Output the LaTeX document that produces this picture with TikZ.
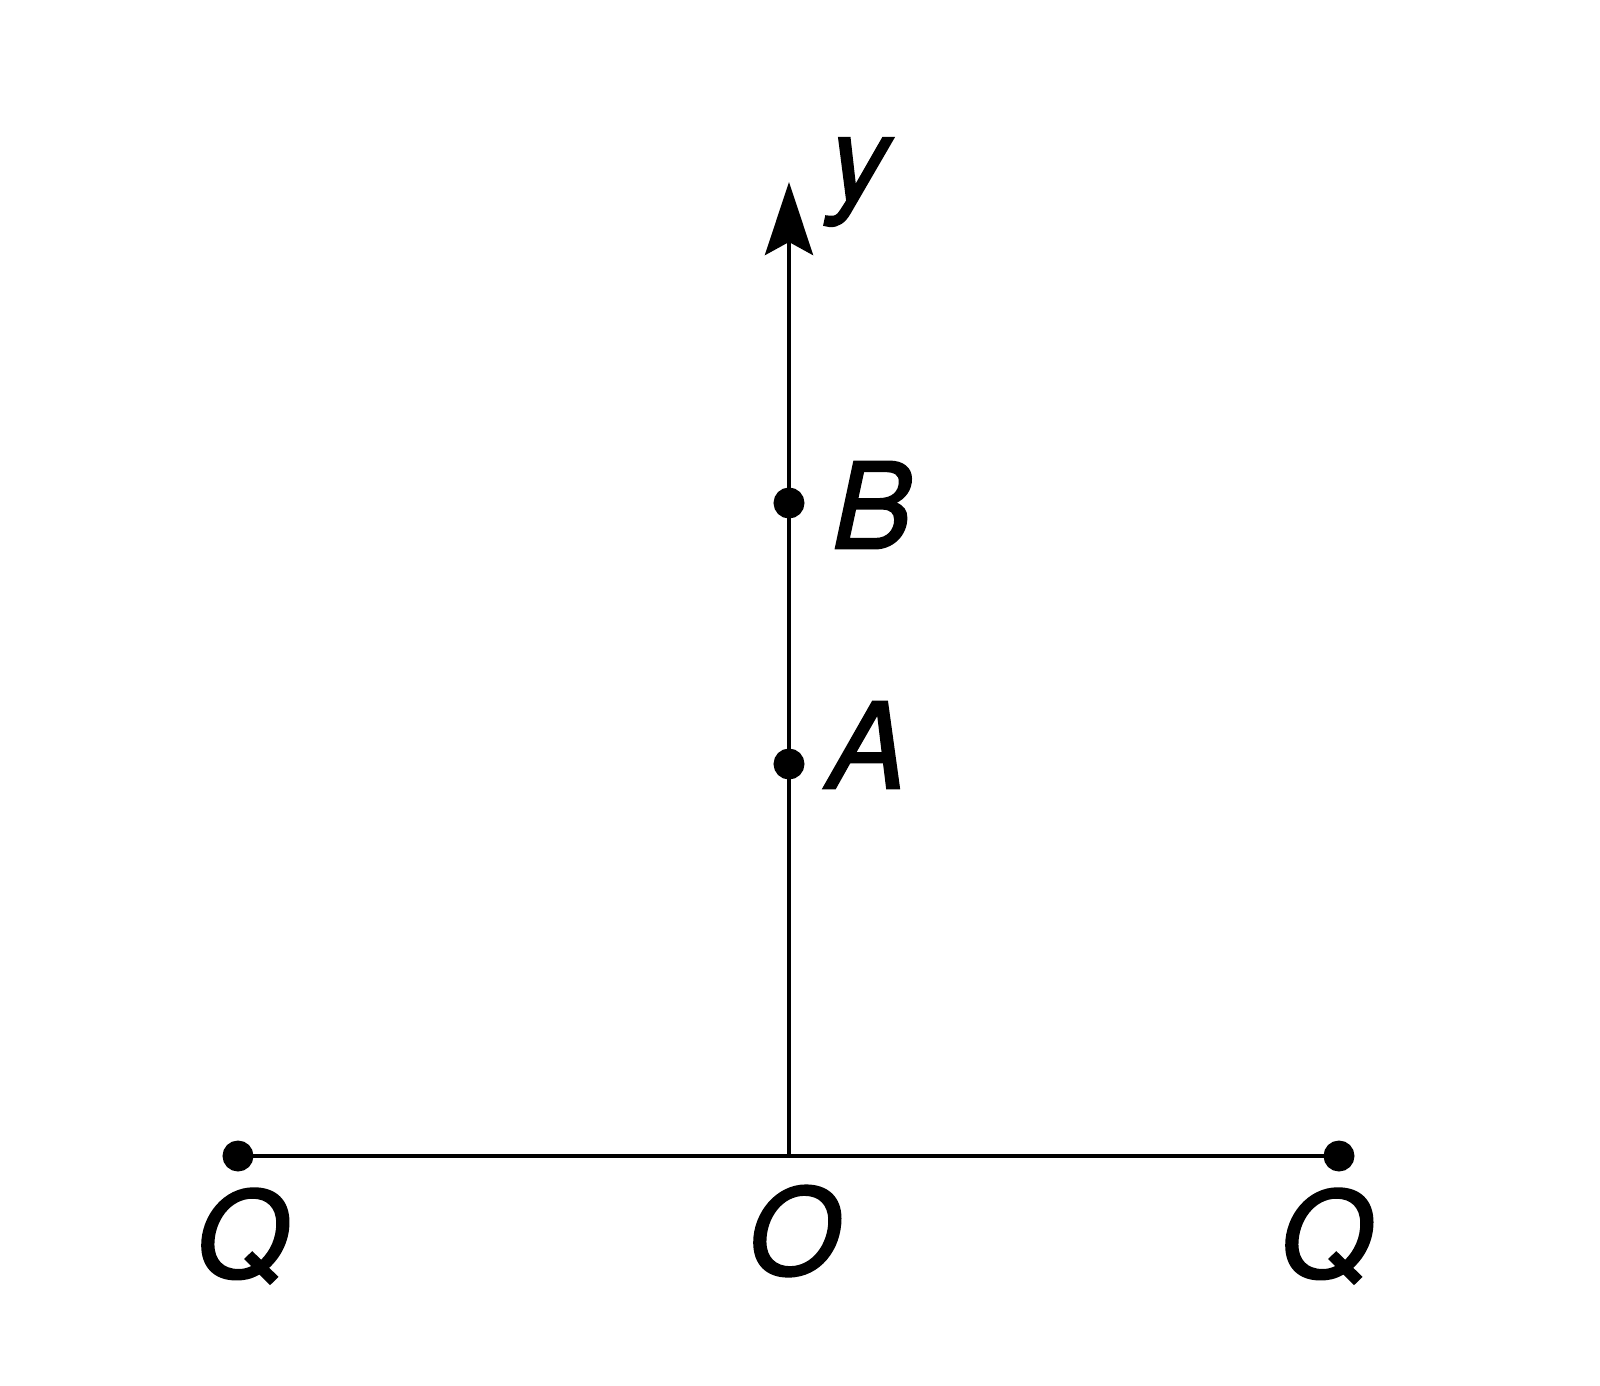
\documentclass[tikz,border=0pt]{standalone}
\usepackage{fontspec}
\newfontfamily\labfont{TeX Gyre Heros}[ItalicFeatures={FakeBold=1.5}]
\usetikzlibrary{arrows.meta}
\begin{document}
\begin{tikzpicture}[line width=1.4pt,
	dot/.style={draw, circle, fill=black, inner sep=0pt, minimum size=0.26cm},
	lab/.style={font=\fontsize{34}{40}\labfont\itshape}]
	\useasboundingbox (-7.89,-2.29) rectangle (8.11,11.56);
			\coordinate (o) at (0,0);
			\coordinate (tip) at (0,9.74);
			\node	(ql) at (-5.51,0) [dot] {};
			\node	(qr) at (5.50,0) [dot] {};
			\draw 
			(ql) edge (qr)
			(o) edge[-{Stealth[length=7.3mm, width=4.8mm, inset=1.3mm]}] (tip)
			;
			\node	(b) at (0,6.53) [dot] {};
			\node	(a) at (0,3.92) [dot] {};
			\node	(qllab) at (-5.47,-0.80) [lab] {Q};
			\node	(olab) at (0.05,-0.75) [lab] {O};
			\node	(qrlab) at (5.37,-0.80) [lab] {Q};
			\node	(blab) at (0.83,6.51) [lab] {B};
			\node	(alab) at (0.78,4.11) [lab] {A};
			\node	(ylab) at (0.70,9.74) [lab] {y};
		\end{tikzpicture}
\end{document}
